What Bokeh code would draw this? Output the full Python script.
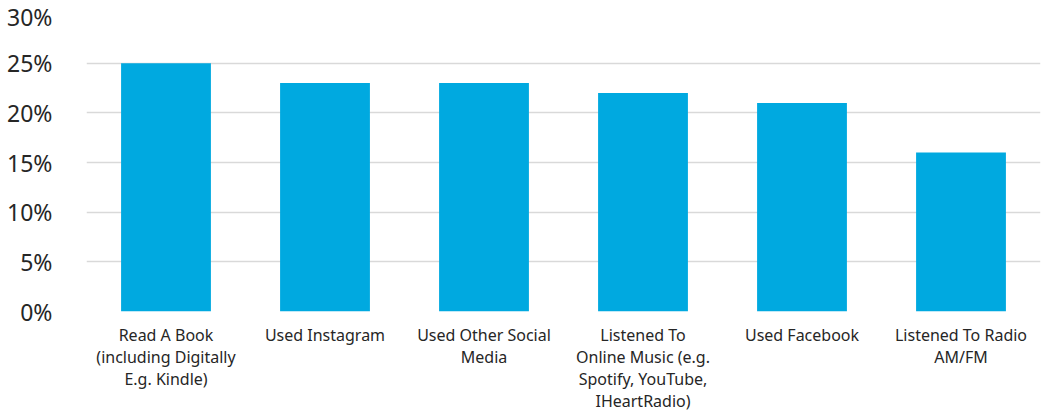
from bokeh.plotting import figure
from bokeh.models import Range1d, FixedTicker, PrintfTickFormatter, ColumnDataSource
from bokeh.embed import file_html
from bokeh.resources import INLINE

categories = [
    "Read A Book\n(including Digitally\nE.g. Kindle)",
    "Used Instagram",
    "Used Other Social\nMedia",
    "Listened To\nOnline Music (e.g.\nSpotify, YouTube,\nIHeartRadio)",
    "Used Facebook",
    "Listened To Radio\nAM/FM",
]
values = [25, 23, 23, 22, 21, 16]
y_ticks = [0, 5, 10, 15, 20, 25, 30]

src = ColumnDataSource(dict(cat=categories, val=values))

p = figure(x_range=categories, width=1048, height=414, output_backend="svg",
           toolbar_location=None, min_border_left=86, min_border_right=8,
           min_border_top=13, min_border_bottom=0)
p.y_range = Range1d(0, 30)
p.vbar(x="cat", top="val", width=0.565, source=src, color="#00A9E0", line_color=None)

p.outline_line_color = None
p.xgrid.grid_line_color = None
p.ygrid.grid_line_color = "#D9D9D9"
p.ygrid.grid_line_width = 1.5
p.ygrid.ticker = FixedTicker(ticks=y_ticks)

p.yaxis.ticker = FixedTicker(ticks=y_ticks)
p.yaxis.formatter = PrintfTickFormatter(format="%d%%")
p.yaxis.axis_line_color = None
p.yaxis.major_tick_line_color = None
p.yaxis.minor_tick_line_color = None
p.yaxis.major_label_text_font = "Noto Sans"
p.yaxis.major_label_text_font_size = "23px"
p.yaxis.major_label_text_color = "#262626"
p.yaxis.major_label_standoff = 28

p.xaxis.axis_line_color = None
p.xaxis.major_tick_line_color = None
p.xaxis.major_label_text_font = "Noto Sans"
p.xaxis.major_label_text_font_size = "16px"
p.xaxis.major_label_text_color = "#262626"
p.xaxis.major_label_standoff = 6
p.xaxis.major_label_text_line_height = 1.0

open("out.html", "w").write(file_html(p, INLINE))
